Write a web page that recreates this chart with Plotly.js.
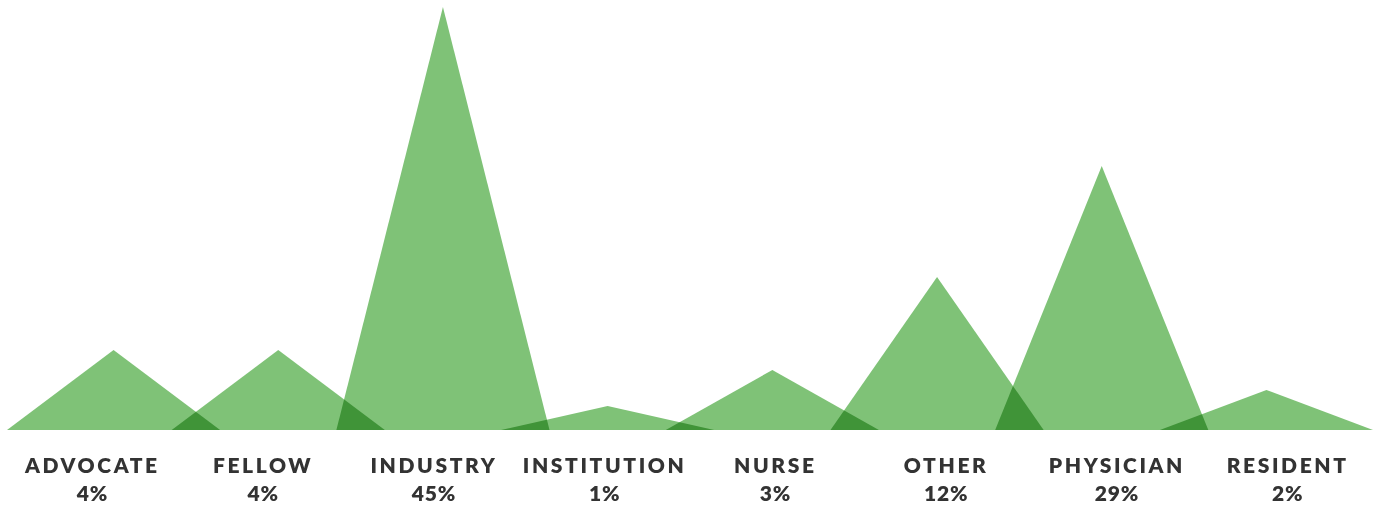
<!DOCTYPE html>
<html>
<head>
<meta charset="utf-8">
<script src="https://cdn.plot.ly/plotly-3.0.1.min.js"></script>
<style>
  html, body { margin: 0; padding: 0; background: #fff; }
  #chart { width: 1380px; height: 508px; }
  .scatterlayer path.js-fill { mix-blend-mode: multiply; }
  .x2tick text { letter-spacing: 2.6px; }
  .x2tick text tspan.line + tspan.line { letter-spacing: 0.8px; }
</style>
</head>
<body>
<div id="chart"></div>
<script>
// Data
const categories = ["ADVOCATE", "FELLOW", "INDUSTRY", "INSTITUTION", "NURSE", "OTHER", "PHYSICIAN", "RESIDENT"];
const percentLabels = ["4%", "4%", "45%", "1%", "3%", "12%", "29%", "2%"];
const peakHeights = [80, 80, 423, 24, 60, 153, 264, 40];

// Layout / style constants
const triWidth = 1.294;      // base width of each triangle in step units
const fillColor = "#7fc277";

const traces = categories.map((cat, i) => ({
  type: "scatter",
  mode: "lines",
  x: [i, i + triWidth / 2, i + triWidth],
  y: [0, peakHeights[i], 0],
  fill: "toself",
  fillcolor: fillColor,
  line: { width: 0, color: fillColor },
  hoverinfo: "skip",
  showlegend: false,
  xaxis: "x",
  yaxis: "y"
}));

// invisible trace to activate the label axis
traces.push({
  type: "scatter", mode: "markers",
  x: categories, y: categories.map(() => 0),
  marker: { opacity: 0 }, hoverinfo: "skip", showlegend: false,
  xaxis: "x2", yaxis: "y"
});

const layout = {
  width: 1380, height: 508,
  margin: { l: 7, r: 7, t: 7, b: 78 },
  paper_bgcolor: "#fff", plot_bgcolor: "#fff",
  showlegend: false,
  xaxis: {
    range: [0, categories.length - 1 + triWidth],
    showgrid: false, zeroline: false, showline: false, showticklabels: false, ticks: ""
  },
  xaxis2: {
    type: "category",
    overlaying: "x",
    anchor: "y",
    side: "bottom",
    range: [-0.5, categories.length - 0.5],
    tickmode: "array",
    tickvals: categories,
    ticktext: categories.map((c, i) => c + "<br>" + percentLabels[i]),
    showgrid: false, zeroline: false, showline: false,
    ticks: "outside", ticklen: 17, tickcolor: "rgba(0,0,0,0)",
    tickfont: { family: "Lato", size: 21, color: "#333333", weight: 800 }
  },
  yaxis: {
    range: [0, 423],
    showgrid: false, zeroline: false, showline: false, showticklabels: false, ticks: ""
  }
};

Plotly.newPlot("chart", traces, layout, { displayModeBar: false, staticPlot: true });
</script>
</body>
</html>
